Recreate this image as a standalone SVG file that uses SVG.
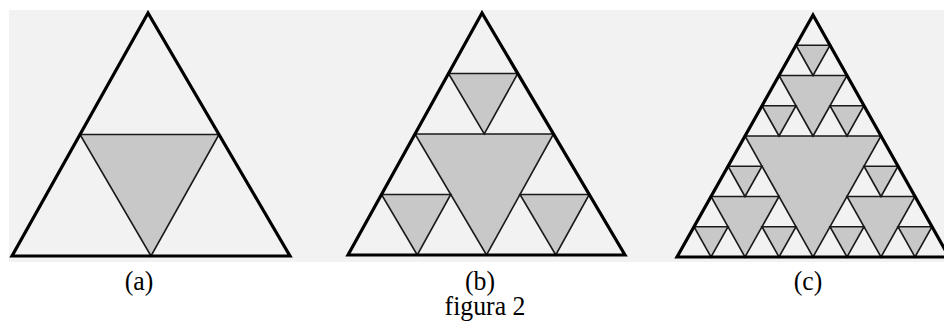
<svg xmlns="http://www.w3.org/2000/svg" width="944" height="322" viewBox="0 0 944 322">
<style>
.outer{fill:none;stroke:#000;stroke-width:3.2;stroke-linejoin:miter}
.shade{fill:#c8c8c8;stroke:#1a1a1a;stroke-width:1.6;stroke-linejoin:miter}
.lbl{font-family:"Liberation Serif","Times New Roman",serif;font-size:28px;fill:#000;text-anchor:middle}
</style>
<rect x="0" y="0" width="944" height="322" fill="#fff"/>
<rect x="9" y="10" width="935" height="252" fill="#f2f2f2"/>
<g id="triangle-a">
<polygon class="shade" points="80,134.5 219,134.5 151,256"/>
<polygon class="outer" points="148,13 12,256 290,256"/>
</g>
<g id="triangle-b">
<polygon class="shade" points="415,134 553.5,134 486.5,255"/>
<polygon class="shade" points="448.5,73.5 517.75,73.5 484.25,134"/>
<polygon class="shade" points="381.5,194.5 450.75,194.5 417.25,255"/>
<polygon class="shade" points="520,194.5 589.25,194.5 555.75,255"/>
<polygon class="outer" points="482,13 348,255 625,255"/>
</g>
<g id="triangle-c">
<polygon class="shade" points="745,136 881,136 813,257"/>
<polygon class="shade" points="779,75.5 847,75.5 813,136"/>
<polygon class="shade" points="711,196.5 779,196.5 745,257"/>
<polygon class="shade" points="847,196.5 915,196.5 881,257"/>
<polygon class="shade" points="796,45.25 830,45.25 813,75.5"/>
<polygon class="shade" points="762,105.75 796,105.75 779,136"/>
<polygon class="shade" points="830,105.75 864,105.75 847,136"/>
<polygon class="shade" points="728,166.25 762,166.25 745,196.5"/>
<polygon class="shade" points="694,226.75 728,226.75 711,257"/>
<polygon class="shade" points="762,226.75 796,226.75 779,257"/>
<polygon class="shade" points="864,166.25 898,166.25 881,196.5"/>
<polygon class="shade" points="830,226.75 864,226.75 847,257"/>
<polygon class="shade" points="898,226.75 932,226.75 915,257"/>
<polygon class="outer" points="813,15 677,257 949,257"/>
</g>
<g id="labels">
<text class="lbl" transform="translate(139,290) scale(0.92,1)">(a)</text>
<text class="lbl" transform="translate(480,290) scale(0.92,1)">(b)</text>
<text class="lbl" transform="translate(808,290) scale(0.92,1)">(c)</text>
<text class="lbl" transform="translate(485,315) scale(0.92,1)">figura 2</text>
</g>
</svg>
